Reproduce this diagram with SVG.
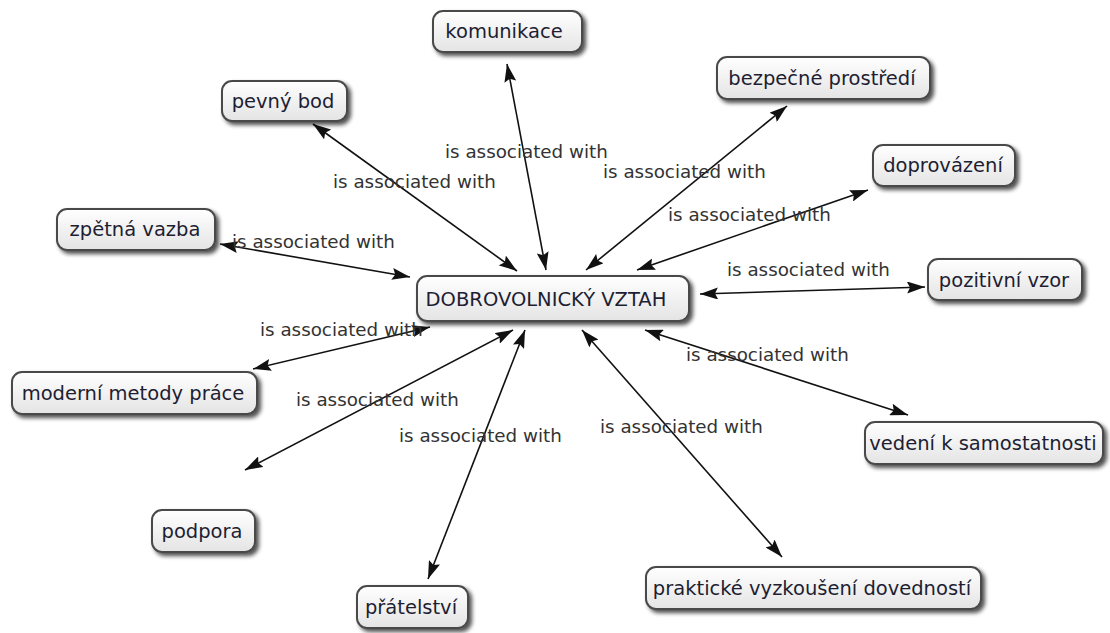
<svg xmlns="http://www.w3.org/2000/svg" width="1110" height="633" viewBox="0 0 1110 633">
<defs>
<linearGradient id="g" x1="0" y1="0" x2="0" y2="1">
<stop offset="0" stop-color="#ffffff"/>
<stop offset="1" stop-color="#e4e4e4"/>
</linearGradient>
<filter id="sh" x="-10%" y="-20%" width="130%" height="160%">
<feGaussianBlur in="SourceAlpha" stdDeviation="2"/>
<feOffset dx="3" dy="3" result="b"/>
<feComponentTransfer><feFuncA type="linear" slope="0.7"/></feComponentTransfer>
<feMerge><feMergeNode/><feMergeNode in="SourceGraphic"/></feMerge>
</filter>
<marker id="ah" viewBox="0 0 18 12" refX="18" refY="6" markerWidth="18" markerHeight="12" markerUnits="userSpaceOnUse" orient="auto-start-reverse">
<path d="M0,0 L18,6 L0,12 L3,6 Z" fill="#111"/>
</marker>
</defs>
<style>
.n rect{fill:url(#g);stroke:#4a4a4a;stroke-width:2;filter:url(#sh)}
.n text{font-family:"DejaVu Sans",sans-serif;font-size:19.5px;fill:#1e1e32;text-anchor:middle}
.c line{stroke:#111;stroke-width:1.6;marker-start:url(#ah);marker-end:url(#ah)}
.l{font-family:"DejaVu Sans",sans-serif;font-size:18.3px;fill:#333}
</style>
<rect width="1110" height="633" fill="#fff"/>
<g class="c" id="connectors">
<line x1="546" y1="270" x2="507" y2="64"/>
<line x1="517" y1="271" x2="313" y2="124"/>
<line x1="586" y1="270" x2="787" y2="106"/>
<line x1="637" y1="270" x2="868" y2="190"/>
<line x1="410" y1="277" x2="220" y2="244"/>
<line x1="700" y1="294" x2="925" y2="287"/>
<line x1="430" y1="327" x2="253" y2="369"/>
<line x1="645" y1="330" x2="908" y2="415"/>
<line x1="513" y1="330" x2="245" y2="470"/>
<line x1="525" y1="330" x2="428" y2="579"/>
<line x1="582" y1="330" x2="782" y2="557"/>
</g>
<g id="labels">
<text class="l" x="445" y="158">is associated with</text>
<text class="l" x="333" y="188">is associated with</text>
<text class="l" x="603" y="178">is associated with</text>
<text class="l" x="668" y="221">is associated with</text>
<text class="l" x="232" y="248">is associated with</text>
<text class="l" x="727" y="276">is associated with</text>
<text class="l" x="260" y="336">is associated with</text>
<text class="l" x="686" y="361">is associated with</text>
<text class="l" x="296" y="406">is associated with</text>
<text class="l" x="399" y="442">is associated with</text>
<text class="l" x="600" y="433">is associated with</text>
</g>
<g class="n" id="n-center"><rect x="417" y="276" width="272" height="45" rx="10"/><text x="546" y="306">DOBROVOLNICKÝ VZTAH</text></g>
<g class="n" id="n-komunikace"><rect x="433" y="11" width="149" height="41" rx="10"/><text x="504" y="38">komunikace</text></g>
<g class="n" id="n-pevny"><rect x="222" y="81" width="125" height="40" rx="10"/><text x="283" y="108">pevný bod</text></g>
<g class="n" id="n-bezpecne"><rect x="717" y="57" width="213" height="42" rx="10"/><text x="822" y="85">bezpečné prostředí</text></g>
<g class="n" id="n-doprovazeni"><rect x="873" y="145" width="142" height="41" rx="10"/><text x="943" y="172">doprovázení</text></g>
<g class="n" id="n-zpetna"><rect x="57" y="209" width="158" height="41" rx="10"/><text x="135" y="236">zpětná vazba</text></g>
<g class="n" id="n-pozitivni"><rect x="928" y="259" width="154" height="41" rx="10"/><text x="1004" y="287">pozitivní vzor</text></g>
<g class="n" id="n-moderni"><rect x="12" y="372" width="245" height="42" rx="10"/><text x="133" y="400">moderní metody práce</text></g>
<g class="n" id="n-vedeni"><rect x="865" y="422" width="238" height="42" rx="10"/><text x="983" y="450">vedení k samostatnosti</text></g>
<g class="n" id="n-podpora"><rect x="152" y="510" width="103" height="42" rx="10"/><text x="202" y="538">podpora</text></g>
<g class="n" id="n-pratelstvi"><rect x="357" y="586" width="111" height="42" rx="10"/><text x="411" y="614">přátelství</text></g>
<g class="n" id="n-prakticke"><rect x="646" y="567" width="335" height="42" rx="10"/><text x="812" y="595">praktické vyzkoušení dovedností</text></g>
</svg>
